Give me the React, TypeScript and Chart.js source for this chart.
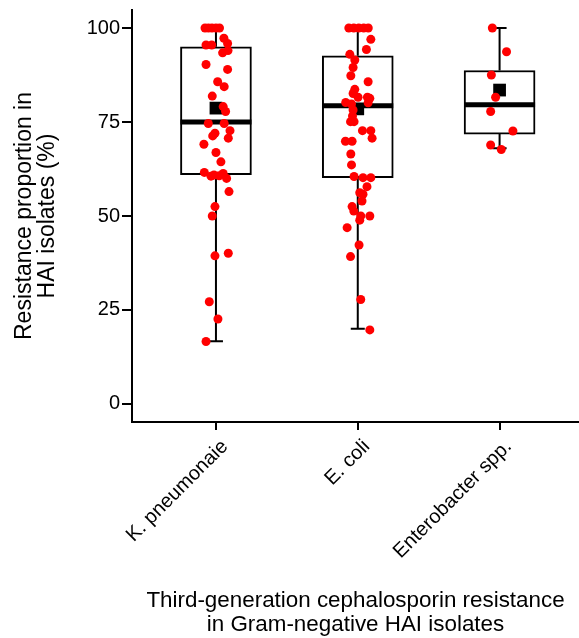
import React, { useEffect, useRef } from "react";
import { Chart, registerables } from "chart.js";

Chart.register(...registerables);

// ---- data ----
const categories = ["K. pneumonaie", "E. coli", "Enterobacter spp."];
const categoryPositions = [1, 2, 3];
const yTickValues = [0, 25, 50, 75, 100];

const boxQ1 = [61.0, 60.2, 71.8];
const boxMedian = [75.0, 79.3, 79.6];
const boxQ3 = [95.0, 92.6, 88.7];
const whiskerLow = [16.7, 20.0, 68.0];
const whiskerHigh = [100, 100, 100];
const meanValues = [78.7, 78.5, 83.5];

// individual isolate-level points (value, jitter offset in category units)
const kpValues = [
  100, 100, 100, 100, 100, 97.3, 95.9, 95.5, 95.5, 93.4, 94.0, 90.3, 89.0, 85.7,
  84.4, 81.9, 79.1, 77.8, 74.6, 74.6, 72.7, 72.0, 71.3, 70.7, 69.1, 66.9, 64.4,
  61.6, 61.3, 60.6, 60.9, 60.7, 60.0, 56.5, 52.5, 50.0, 39.4, 40.1, 27.2, 22.6, 16.6,
];
const kpJitter = [
  -0.077, -0.053, -0.028, 0, 0.025, 0.056, 0.082, -0.07, -0.03, 0.047, 0.085, -0.07,
  0.082, 0.012, 0.058, -0.026, 0.051, 0.068, -0.054, 0.058, 0.099, -0.007, -0.023,
  0.087, -0.085, 0, 0.035, -0.082, 0.051, -0.035, -0.014, 0.023, 0.075, 0.092,
  -0.007, -0.026, -0.007, 0.087, -0.047, 0.014, -0.07,
];

const ecValues = [
  100, 100, 100, 100, 100, 97.0, 94.3, 93.0, 91.5, 89.5, 87.3, 85.7, 83.7, 82.6,
  81.6, 81.6, 81.3, 80.1, 80.2, 79.8, 78.2, 76.6, 75.1, 75.1, 72.7, 72.7, 70.7,
  69.9, 69.9, 66.5, 63.6, 60.5, 60.2, 60.2, 57.8, 56.2, 55.8, 54.0, 52.5, 51.3,
  50.0, 50.0, 48.9, 46.9, 42.3, 39.2, 27.8, 19.7,
];
const ecJitter = [
  -0.063, -0.028, 0.007, 0.042, 0.074, 0.092, 0.061, -0.056, -0.021, -0.033, -0.049,
  0.073, -0.021, -0.033, 0.002, 0.068, 0.085, 0.073, -0.085, -0.044, -0.033, -0.037,
  -0.026, -0.051, 0.033, 0.092, 0.101, -0.087, -0.04, -0.049, -0.044, -0.026, 0.037,
  0.092, 0.065, 0.014, 0.037, 0.03, -0.04, -0.028, 0.021, 0.085, 0.014, -0.075,
  0.009, -0.051, 0.021, 0.085,
];

const enValues = [100, 93.7, 87.5, 81.6, 77.8, 72.6, 68.9, 67.7];
const enJitter = [-0.051, 0.049, -0.058, -0.028, -0.063, 0.094, -0.063, 0.012];

const FONT = "'Liberation Sans', Arial, Helvetica, sans-serif";

function buildPoints() {
  const groups = [
    { pos: categoryPositions[0], values: kpValues, jitter: kpJitter },
    { pos: categoryPositions[1], values: ecValues, jitter: ecJitter },
    { pos: categoryPositions[2], values: enValues, jitter: enJitter },
  ];
  const pts: { x: number; y: number }[] = [];
  groups.forEach((g) => {
    g.values.forEach((v, i) => pts.push({ x: g.pos + g.jitter[i], y: v }));
  });
  return pts;
}

const BOX_INDEX = 2;

const boxDecorPlugin = {
  id: "boxDecor",
  afterDatasetDraw(chart: any, args: any) {
    if (args.index !== BOX_INDEX) return;
    const { ctx, scales } = chart;
    const xs = scales.x;
    const ys = scales.y;
    const meta = chart.getDatasetMeta(BOX_INDEX);
    ctx.save();
    ctx.strokeStyle = "#000";
    ctx.lineCap = "butt";
    categoryPositions.forEach((pos, i) => {
      const cx = xs.getPixelForValue(pos);
      const capHalf = 7;
      ctx.lineWidth = 2;
      ctx.beginPath();
      ctx.moveTo(cx, ys.getPixelForValue(boxQ3[i]));
      ctx.lineTo(cx, ys.getPixelForValue(whiskerHigh[i]));
      ctx.moveTo(cx, ys.getPixelForValue(boxQ1[i]));
      ctx.lineTo(cx, ys.getPixelForValue(whiskerLow[i]));
      ctx.moveTo(cx - capHalf, ys.getPixelForValue(whiskerHigh[i]));
      ctx.lineTo(cx + capHalf, ys.getPixelForValue(whiskerHigh[i]));
      ctx.moveTo(cx - capHalf, ys.getPixelForValue(whiskerLow[i]));
      ctx.lineTo(cx + capHalf, ys.getPixelForValue(whiskerLow[i]));
      ctx.stroke();
      const el = meta.data[i];
      const half = el ? el.width / 2 : 35;
      ctx.lineWidth = 5;
      ctx.beginPath();
      const my = ys.getPixelForValue(boxMedian[i]);
      ctx.moveTo(cx - half, my);
      ctx.lineTo(cx + half, my);
      ctx.stroke();
    });
    ctx.restore();
  },
};

const whiteBg = {
  id: "whiteBg",
  beforeDraw(chart: any) {
    const { ctx, width, height } = chart;
    ctx.save();
    ctx.fillStyle = "#fff";
    ctx.fillRect(0, 0, width, height);
    ctx.restore();
  },
};

export default function App() {
  const ref = useRef<HTMLCanvasElement | null>(null);

  useEffect(() => {
    if (!ref.current) return;
    Chart.defaults.color = "#000";
    Chart.defaults.font.family = FONT;

    const chart = new Chart(ref.current, {
      type: "bar",
      data: {
        datasets: [
          {
            type: "scatter",
            label: "isolates",
            data: buildPoints(),
            backgroundColor: "#ff0000",
            borderWidth: 0,
            pointRadius: 4.5,
            order: 0,
          } as any,
          {
            type: "scatter",
            label: "mean",
            data: categoryPositions.map((p, i) => ({ x: p, y: meanValues[i] })),
            backgroundColor: "#000",
            borderWidth: 0,
            pointStyle: "rect",
            pointRadius: 9,
            order: 1,
          } as any,
          {
            type: "bar",
            label: "box",
            data: categoryPositions.map((p, i) => ({ x: p, y: [boxQ1[i], boxQ3[i]] })),
            backgroundColor: "#fff",
            borderColor: "#000",
            borderWidth: 2,
            borderSkipped: false,
            barThickness: 71,
            order: 2,
          } as any,
        ],
      },
      options: {
        animation: false,
        responsive: false,
        devicePixelRatio: 1,
        layout: { autoPadding: false, padding: { top: 10, left: 0, right: 0, bottom: 0 } },
        plugins: {
          legend: { display: false },
          tooltip: { enabled: false },
        },
        scales: {
          x: {
            type: "linear",
            offset: false,
            min: 0.408,
            max: 3.56,
            afterBuildTicks: (scale: any) => {
              scale.ticks = categoryPositions.map((v) => ({ value: v }));
            },
            afterFit: (scale: any) => {
              scale.height = 216;
              scale.paddingLeft = 0;
              scale.paddingRight = 0;
            },
            grid: {
              display: true,
              offset: false,
              drawOnChartArea: false,
              drawTicks: true,
              tickLength: 8,
              color: "#000",
              lineWidth: 2,
            },
            border: { display: true, color: "#000", width: 2 },
            ticks: {
              minRotation: 45,
              maxRotation: 45,
              padding: 5,
              labelOffset: 9,
              autoSkip: false,
              font: { size: 20, family: FONT },
              color: "#000",
              callback: (v: any) => {
                const i = categoryPositions.indexOf(Number(v));
                return i >= 0 ? categories[i] : "";
              },
            },
            title: {
              display: true,
              text: ["Third-generation cephalosporin resistance", "in Gram-negative HAI isolates"],
              font: { size: 22.4, family: FONT, lineHeight: "24px" },
              color: "#000",
              padding: { top: 0, bottom: 1 },
            },
          },
          y: {
            type: "linear",
            min: -4.8,
            max: 104.8,
            afterBuildTicks: (scale: any) => {
              scale.ticks = yTickValues.map((v) => ({ value: v }));
            },
            afterFit: (scale: any) => {
              scale.width = 132;
              scale.paddingTop = 0;
              scale.paddingBottom = 0;
            },
            grid: {
              display: true,
              drawOnChartArea: false,
              drawTicks: true,
              tickLength: 10,
              color: "#000",
              lineWidth: 2,
            },
            border: { display: true, color: "#000", width: 2 },
            ticks: {
              padding: 2,
              font: { size: 20, family: FONT },
              color: "#000",
              callback: (v: any) => String(v),
            },
            title: {
              display: true,
              text: ["Resistance proportion in", "HAI isolates (%)"],
              font: { size: 23, family: FONT, lineHeight: "23px" },
              color: "#000",
              padding: { top: 13, bottom: 0 },
            },
          },
        },
      },
      plugins: [whiteBg, boxDecorPlugin],
    } as any);

    return () => chart.destroy();
  }, []);

  return (
    <div style={{ position: "absolute", left: 0, top: 0, width: 579, height: 638 }}>
      <canvas ref={ref} width={579} height={638} />
    </div>
  );
}
